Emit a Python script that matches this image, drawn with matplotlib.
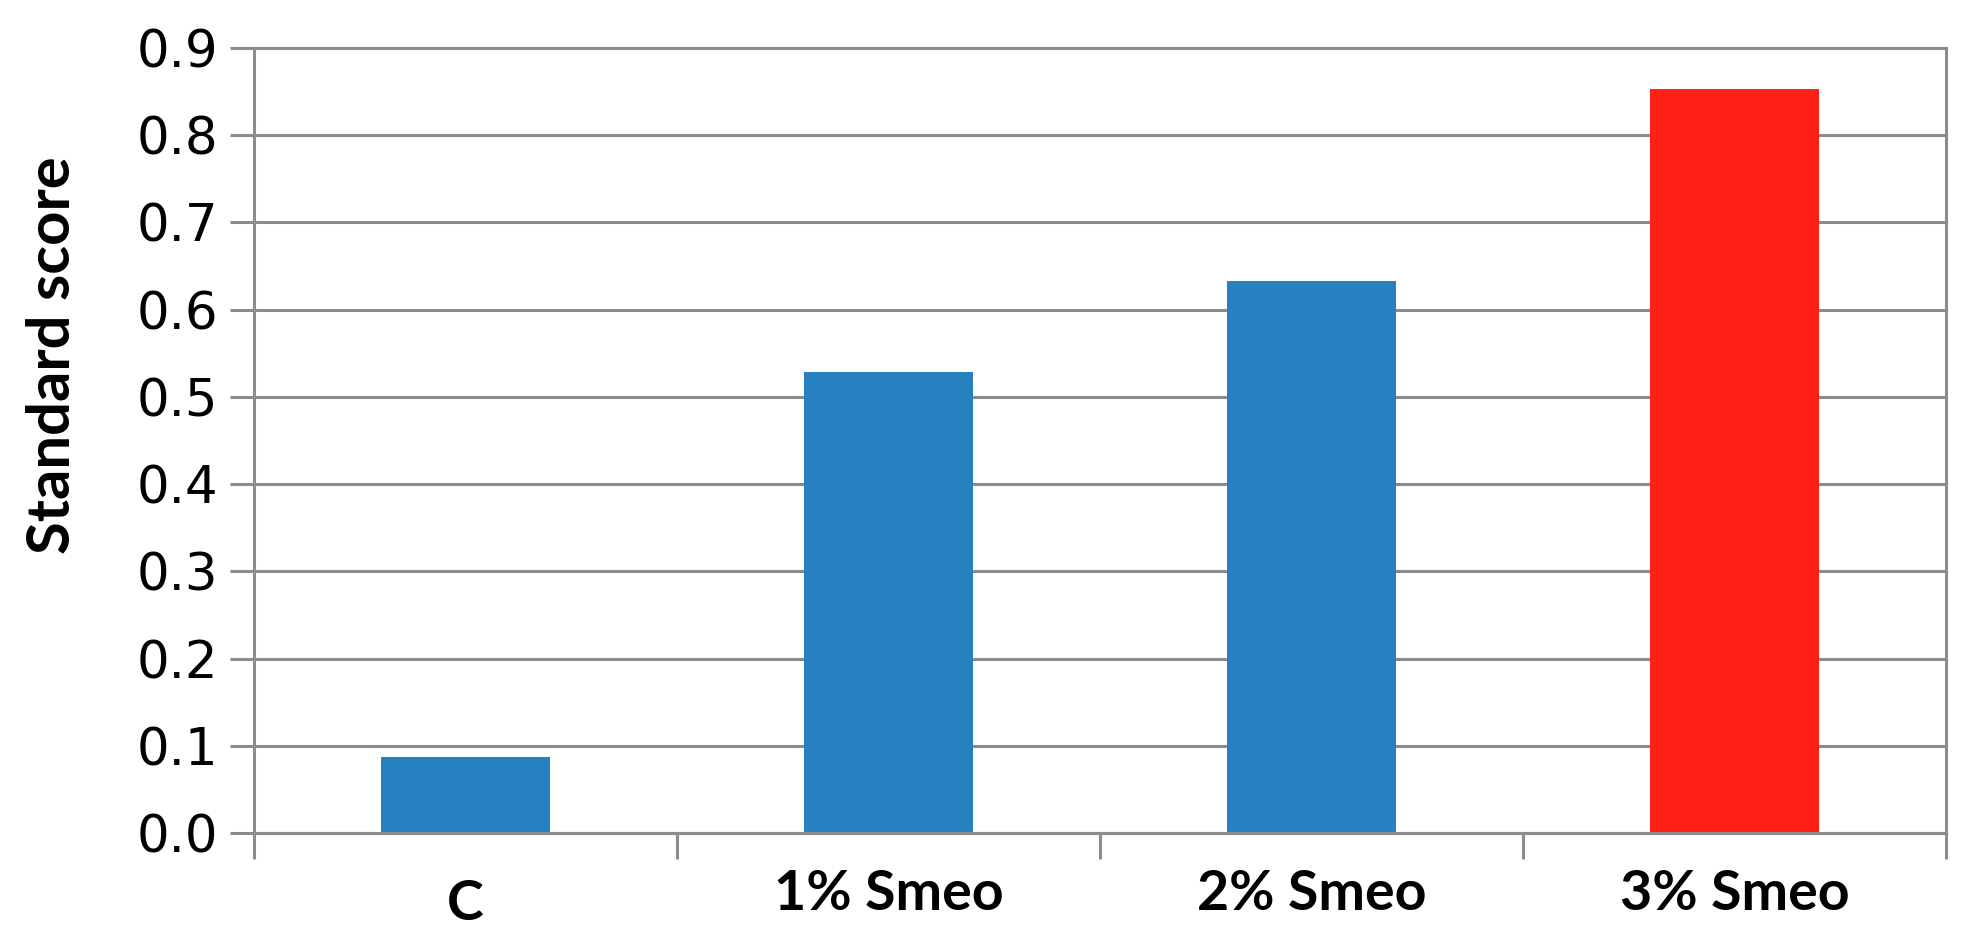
import matplotlib
matplotlib.use("Agg")
import matplotlib.pyplot as plt
import matplotlib.transforms as mtransforms

categories = ["C", "1% Smeo", "2% Smeo", "3% Smeo"]
values = [0.087, 0.529, 0.633, 0.853]
bar_colors = ["#2681C0", "#2681C0", "#2681C0", "#FF2016"]
y_ticks = [0.0, 0.1, 0.2, 0.3, 0.4, 0.5, 0.6, 0.7, 0.8, 0.9]
y_label = "Standard score"

grid_col = "#8C8C8C"
lw = 2.2

fig = plt.figure(figsize=(19.71, 9.43), dpi=100)
ax = fig.add_axes([254/1971, 110/943, (1946-254)/1971, (833-48)/943])

x = list(range(len(categories)))
ax.bar(x, values, width=0.4, color=bar_colors, zorder=2)

ax.set_xlim(-0.5, len(categories) - 0.5)
ax.set_ylim(0, 0.9)
ax.set_yticks(y_ticks)
ax.set_yticklabels([f"{v:.1f}" for v in y_ticks], fontfamily="DejaVu Sans", fontsize=37)

ax.set_axisbelow(True)
ax.yaxis.grid(True, color=grid_col, linewidth=lw)
for line in ax.yaxis.get_gridlines():
    line.set_clip_on(False)

ax.set_xticks(x)
ax.set_xticklabels(categories, fontfamily="Lato", fontweight="bold", fontsize=40)
ax.set_xticks([i - 0.5 for i in range(len(categories) + 1)], minor=True)
ax.tick_params(axis="x", which="major", length=0, pad=26)
ax.tick_params(axis="x", which="minor", length=19, width=lw, color=grid_col, direction="out")
ax.tick_params(axis="y", which="major", length=17, width=lw, color=grid_col, pad=9)

for s in ["left", "right", "bottom"]:
    ax.spines[s].set_color(grid_col)
    ax.spines[s].set_linewidth(lw)
ax.spines["top"].set_visible(False)

ax.set_ylabel(y_label, fontfamily="Lato", fontweight="bold", fontsize=43)
ax.yaxis.set_label_coords((80 - 254) / (1946 - 254), (833 - 355) / (833 - 48))

# small downward offset on the first label as in the reference
lbl = ax.get_xticklabels()[0]
lbl.set_transform(lbl.get_transform() + mtransforms.ScaledTranslation(0, -10/100, fig.dpi_scale_trans))

fig.savefig("out.png", dpi=100)
